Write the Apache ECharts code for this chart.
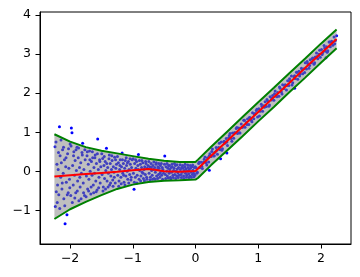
<!DOCTYPE html>
<html>
<head>
<meta charset="utf-8">
<script src="https://cdn.jsdelivr.net/npm/echarts@6/dist/echarts.min.js"></script>
<style>
html,body{margin:0;padding:0;background:#fff;}
#c{width:360px;height:277px;}
</style>
</head>
<body>
<div id="c"></div>
<script>
// ---- data ----
const xTicks = [-2, -1, 0, 1, 2];
const yTicks = [-1, 0, 1, 2, 3, 4];

// band (green curves) knots
const bandX     = [-2.25,-2.0,-1.75,-1.5,-1.25,-1.0,-0.75,-0.5,-0.25,0.0,0.04,0.25,0.5,0.75,1.0,1.25,1.5,1.75,2.0,2.25];
const bandUpper = [0.95,0.76,0.62,0.53,0.46,0.39,0.32,0.27,0.24,0.24,0.30,0.63,1.01,1.39,1.77,2.14,2.52,2.89,3.27,3.63];
const bandLower = [-1.22,-0.97,-0.78,-0.61,-0.45,-0.34,-0.27,-0.24,-0.23,-0.21,-0.17,0.16,0.53,0.90,1.28,1.65,2.03,2.40,2.78,3.15];

// fitted (red) curve
const fitX = [-2.25,-2.0,-1.75,-1.5,-1.25,-1.0,-0.75,-0.65,-0.5,-0.25,0.0,0.25,0.5,0.75,1.0,1.25,1.5,1.75,2.0,2.25];
const fitY = [-0.13,-0.10,-0.07,-0.04,-0.01,0.03,0.06,0.04,0.0,-0.01,0.01,0.40,0.77,1.15,1.52,1.90,2.27,2.65,3.02,3.39];

// observed points, left (noisy) part
const pointsLeft = [
[-2.24,0.63],[-2.22,-0.52],[-2.21,0.18],[-2.2,-0.35],[-2.19,0.05],[-2.18,-0.6],[-2.17,1.14],[-2.16,0.4],[-2.15,-0.15],[-2.14,0.22],[-2.13,-0.45],[-2.12,0.55],[-2.11,-0.05],[-2.1,-0.7],[-2.09,0.3],[-2.08,-1.34],[-2.07,0.12],[-2.06,-0.28],[-2.05,-1.11],[-2.04,0.45],[-2.03,-0.55],[-2.02,0.08],[-2.01,-0.2],[-2.0,0.7],
[-1.99,-0.62],[-1.98,1.11],[-1.97,0.99],[-1.96,0.15],[-1.95,-0.35],[-1.94,0.5],[-1.93,-0.1],[-1.92,0.28],[-1.91,-0.55],[-1.9,0.02],[-1.89,0.62],[-1.88,-0.25],[-1.87,0.35],[-1.86,-0.75],[-1.85,0.1],[-1.84,-0.4],[-1.83,0.22],[-1.82,-0.05],[-1.81,0.48],[-1.8,0.72],[-1.79,-0.3],[-1.78,0.05],[-1.77,-0.62],[-1.76,0.3],
[-1.74,-0.12],[-1.73,0.4],[-1.72,-0.45],[-1.71,0.18],[-1.7,-0.2],[-1.69,0.52],[-1.68,0.0],[-1.67,-0.58],[-1.66,0.25],[-1.65,-0.1],[-1.64,0.35],[-1.63,-0.35],[-1.62,0.1],[-1.61,-0.05],[-1.6,0.42],[-1.59,-0.25],[-1.58,0.2],[-1.57,-0.48],[-1.56,0.83],[-1.55,0.05],[-1.54,-0.15],[-1.53,0.3],[-1.52,-0.3],[-1.51,0.12],
[-1.49,-0.08],[-1.48,0.33],[-1.47,-0.4],[-1.46,0.15],[-1.45,-0.18],[-1.44,0.25],[-1.43,0.02],[-1.42,0.59],[-1.41,-0.25],[-1.4,0.1],[-1.39,-0.05],[-1.38,0.32],[-1.37,-0.35],[-1.36,0.2],[-1.35,-0.12],[-1.34,0.05],[-1.33,0.28],[-1.32,-0.22],[-1.31,0.12],[-1.3,-0.02],[-1.29,0.36],[-1.28,-0.3],[-1.27,0.08],[-1.26,0.18],
[-1.24,-0.1],[-1.23,0.22],[-1.22,-0.25],[-1.21,0.05],[-1.2,0.3],[-1.19,-0.15],[-1.18,0.12],[-1.17,0.47],[-1.16,-0.05],[-1.15,0.2],[-1.14,-0.28],[-1.13,0.08],[-1.12,0.28],[-1.11,-0.12],[-1.1,0.15],[-1.09,0.0],[-1.08,-0.2],[-1.07,0.25],[-1.06,0.05],[-1.05,-0.08],[-1.04,0.18],[-1.03,-0.22],[-1.02,0.1],[-1.01,0.3],
[-0.99,-0.05],[-0.98,-0.46],[-0.97,0.2],[-0.96,-0.15],[-0.95,0.08],[-0.94,0.25],[-0.93,-0.1],[-0.92,0.15],[-0.91,0.43],[-0.9,-0.2],[-0.89,0.02],[-0.88,0.18],[-0.87,-0.12],[-0.86,0.1],[-0.85,-0.02],[-0.84,0.22],[-0.83,-0.18],[-0.82,0.05],[-0.81,0.12],[-0.8,-0.08],[-0.79,0.2],[-0.78,-0.15],[-0.77,0.08],[-0.76,0.15],
[-0.74,-0.05],[-0.73,0.12],[-0.72,-0.15],[-0.71,0.2],[-0.7,0.02],[-0.69,-0.1],[-0.68,0.15],[-0.67,0.05],[-0.66,-0.18],[-0.65,0.1],[-0.64,-0.02],[-0.63,0.18],[-0.62,-0.12],[-0.61,0.05],[-0.6,0.12],[-0.59,-0.08],[-0.58,0.08],[-0.57,-0.15],[-0.56,0.15],[-0.55,0.0],[-0.54,-0.1],[-0.53,0.1],[-0.52,0.05],[-0.51,-0.05],
[-0.49,0.39],[-0.48,-0.08],[-0.47,0.12],[-0.46,0.0],[-0.45,-0.12],[-0.44,0.08],[-0.43,0.15],[-0.42,-0.05],[-0.41,0.05],[-0.4,-0.15],[-0.39,0.1],[-0.38,-0.02],[-0.37,0.12],[-0.36,-0.1],[-0.35,0.02],[-0.34,0.08],[-0.33,-0.08],[-0.32,0.15],[-0.31,0.0],[-0.3,-0.12],[-0.29,0.06],[-0.28,-0.04],[-0.27,0.1],[-0.26,-0.1],
[-0.24,0.05],[-0.23,-0.08],[-0.22,0.1],[-0.21,-0.02],[-0.2,0.08],[-0.19,-0.12],[-0.18,0.02],[-0.17,0.12],[-0.16,-0.05],[-0.15,0.06],[-0.14,-0.1],[-0.13,0.0],[-0.12,0.1],[-0.11,-0.06],[-0.1,0.04],[-0.09,-0.12],[-0.08,0.08],[-0.07,-0.02],[-0.06,0.12],[-0.05,-0.08],[-0.04,0.03],[-0.03,-0.05],[-0.02,0.1],[-0.01,-0.1]
];

// more observed points on the left, spread across the band
const pointsLeftWide = [
[-2.235,-0.9],[-2.225,0.75],[-2.205,-0.8],[-2.185,0.48],[-2.165,-0.95],[-2.145,0.8],[-2.125,-0.3],[-2.105,0.62],[-2.085,-0.88],[-2.065,0.35],[-2.045,-0.6],[-2.025,0.58],[-2.005,-0.42],
[-1.985,0.65],[-1.965,-0.8],[-1.945,0.4],[-1.925,-0.68],[-1.905,0.55],[-1.885,-0.5],[-1.865,0.6],[-1.845,-0.15],[-1.825,-0.7],[-1.805,0.42],[-1.785,-0.55],[-1.765,0.55],
[-1.745,-0.65],[-1.725,0.5],[-1.705,-0.5],[-1.685,0.3],[-1.665,-0.4],[-1.645,0.5],[-1.625,-0.55],[-1.605,0.35],[-1.585,-0.52],[-1.565,0.45],[-1.545,-0.42],[-1.525,0.25],
[-1.495,0.45],[-1.475,-0.5],[-1.455,0.38],[-1.435,-0.45],[-1.415,0.2],[-1.395,-0.4],[-1.375,0.42],[-1.355,-0.3],[-1.335,0.4],[-1.315,-0.38],[-1.295,-0.15],[-1.275,0.3],
[-1.245,0.38],[-1.225,-0.38],[-1.205,0.15],[-1.185,-0.32],[-1.165,0.3],[-1.145,-0.1],[-1.125,-0.35],[-1.105,0.35],[-1.085,0.22],[-1.065,-0.3],[-1.045,0.32],[-1.025,-0.15],
[-0.995,0.32],[-0.975,-0.28],[-0.955,0.3],[-0.935,-0.3],[-0.915,0.05],[-0.895,0.28],[-0.875,-0.25],[-0.855,0.28],[-0.835,-0.05],[-0.815,-0.24],[-0.795,0.25],[-0.775,-0.2],
[-0.745,0.25],[-0.725,-0.22],[-0.705,0.1],[-0.685,-0.2],[-0.665,0.24],[-0.645,-0.2],[-0.625,0.22],[-0.605,-0.18],[-0.585,0.2],[-0.565,-0.05],[-0.545,0.2],[-0.525,-0.2],
[-0.495,0.18],[-0.475,-0.18],[-0.455,0.2],[-0.435,-0.17],[-0.415,0.15],[-0.395,-0.19],[-0.375,0.18],[-0.355,-0.16],[-0.335,0.2],[-0.315,-0.18],[-0.295,0.17],[-0.275,-0.16],
[-0.245,0.17],[-0.225,-0.16],[-0.205,0.15],[-0.185,-0.18],[-0.165,0.18],[-0.145,-0.15],[-0.125,0.16],[-0.105,-0.16],[-0.085,0.15],[-0.065,-0.15],[-0.045,0.16],[-0.025,-0.14],[-0.005,0.12]
];

// observed points, right (linear) part
const pointsRight = [
[0.01,0.09],[0.03,-0.02],[0.05,0.20],[0.07,0.10],[0.09,0.23],[0.11,0.07],[0.13,0.24],[0.15,0.37],[0.17,0.22],[0.19,0.35],[0.21,0.24],[0.22,0.03],[0.23,0.45],[0.25,0.38],[0.27,0.57],[0.29,0.39],[0.31,0.49],[0.33,0.61],[0.35,0.44],[0.37,0.61],[0.39,0.56],[0.40,0.32],
[0.41,0.75],[0.43,0.58],[0.45,0.76],[0.47,0.72],[0.49,0.84],[0.50,0.47],[0.51,0.66],[0.53,0.86],[0.55,0.97],[0.57,0.84],[0.59,0.98],[0.61,0.85],[0.63,0.99],[0.65,1.10],[0.67,0.97],[0.69,1.11],[0.71,0.98],[0.73,1.21],[0.75,1.13],[0.77,1.31],[0.79,1.13],
[0.81,1.25],[0.83,1.34],[0.85,1.20],[0.87,1.37],[0.89,1.31],[0.91,1.50],[0.93,1.35],[0.95,1.48],[0.97,1.56],[0.99,1.39],[1.01,1.60],[1.03,1.54],[1.05,1.72],[1.07,1.54],[1.09,1.68],[1.11,1.78],[1.13,1.66],[1.15,1.80],[1.17,1.67],[1.19,1.91],
[1.21,1.83],[1.23,1.94],[1.25,1.82],[1.27,2.06],[1.29,1.92],[1.31,2.02],[1.33,1.92],[1.35,2.13],[1.37,2.03],[1.39,2.22],[1.41,2.12],[1.43,2.22],[1.45,2.08],[1.47,2.32],[1.49,2.20],[1.51,2.31],[1.53,2.44],[1.55,2.27],[1.57,2.42],[1.58,2.13],[1.59,2.38],
[1.61,2.54],[1.63,2.36],[1.65,2.56],[1.67,2.49],[1.69,2.64],[1.71,2.50],[1.73,2.63],[1.75,2.78],[1.77,2.62],[1.79,2.76],[1.81,2.64],[1.83,2.86],[1.85,2.78],[1.87,2.90],[1.89,2.74],[1.91,2.93],[1.93,3.03],[1.95,2.88],[1.97,3.00],[1.99,2.92],
[2.01,3.12],[2.03,3.04],[2.05,3.22],[2.07,3.08],[2.08,2.91],[2.09,3.19],[2.11,3.09],[2.13,3.31],[2.15,3.19],[2.17,3.33],[2.19,3.23],[2.21,3.44],[2.23,3.35],[2.25,3.47]
];

// more observed points on the right
const pointsRightMore = [
[0.02,-0.05],[0.06,0.23],[0.10,0.13],[0.14,0.31],[0.18,0.16],[0.22,0.40],[0.26,0.51],[0.30,0.40],[0.34,0.54],[0.38,0.72],[0.42,0.54],[0.46,0.77],[0.50,0.75],[0.54,0.92],
[0.58,0.77],[0.62,0.99],[0.66,1.12],[0.70,0.99],[0.74,1.13],[0.78,1.31],[0.82,1.20],[0.86,1.38],[0.90,1.27],[0.94,1.46],[0.98,1.59],[1.02,1.42],[1.06,1.66],[1.10,1.64],
[1.14,1.84],[1.18,1.70],[1.22,1.87],[1.26,1.99],[1.30,1.91],[1.34,2.16],[1.38,1.98],[1.42,2.19],[1.46,2.20],[1.50,2.37],[1.54,2.21],[1.58,2.45],[1.62,2.54],[1.66,2.44],
[1.70,2.60],[1.74,2.53],[1.78,2.81],[1.82,2.71],[1.86,2.88],[1.90,2.78],[1.94,2.94],[1.98,3.10],[2.02,2.99],[2.06,3.16],[2.10,3.05],[2.14,3.31],[2.18,3.31],[2.22,3.27]
];

// ---- chart ----
const FONT = '"DejaVu Sans", sans-serif';
const fmt = v => String(v).replace('-', '\u2212');
const zip = (xs, ys) => xs.map((x, i) => [x, ys[i]]);

const chart = echarts.init(document.getElementById('c'), null, {renderer: 'canvas'});
chart.setOption({
  animation: false,
  backgroundColor: '#ffffff',
  grid: {left: 40, top: 12, right: 9, bottom: 33, show: true, borderColor: '#000', borderWidth: 1, backgroundColor: 'transparent'},
  xAxis: {
    type: 'value', min: -2.48, max: 2.48,
    axisLine: {show: true, onZero: false, lineStyle: {color: '#000', width: 1}},
    axisTick: {show: true, length: 4.5, lineStyle: {color: '#000', width: 1}, customValues: xTicks},
    axisLabel: {show: true, color: '#000', fontSize: 12.5, fontFamily: FONT, margin: 8, customValues: xTicks, formatter: fmt},
    splitLine: {show: false}
  },
  yAxis: {
    type: 'value', min: -1.86, max: 4.08,
    axisLine: {show: true, onZero: false, lineStyle: {color: '#000', width: 1}},
    axisTick: {show: true, length: 4.5, lineStyle: {color: '#000', width: 1}, customValues: yTicks},
    axisLabel: {show: true, color: '#000', fontSize: 12.5, fontFamily: FONT, margin: 9, customValues: yTicks, formatter: fmt},
    splitLine: {show: false}
  },
  series: [
    {
      type: 'scatter', zlevel: 0, z: 1,
      data: pointsLeft.concat(pointsLeftWide, pointsRight, pointsRightMore),
      symbol: 'circle', symbolSize: 3,
      itemStyle: {color: '#0000ff', borderWidth: 0, opacity: 1},
      silent: true
    },
    {
      type: 'custom', zlevel: 1, z: 2, silent: true,
      data: [[bandX[0], bandUpper[0]]],
      encode: {x: 0, y: 1},
      renderItem: function (params, api) {
        const pts = [];
        for (let i = 0; i < bandX.length; i++) pts.push(api.coord([bandX[i], bandUpper[i]]));
        for (let i = bandX.length - 1; i >= 0; i--) pts.push(api.coord([bandX[i], bandLower[i]]));
        return {type: 'polygon', shape: {points: pts}, style: {fill: 'rgba(128,128,128,0.5)', stroke: 'none'}};
      }
    },
    {
      type: 'line', zlevel: 1, z: 3, silent: true, showSymbol: false,
      data: zip(bandX, bandUpper),
      lineStyle: {color: '#008000', width: 2}
    },
    {
      type: 'line', zlevel: 1, z: 3, silent: true, showSymbol: false,
      data: zip(bandX, bandLower),
      lineStyle: {color: '#008000', width: 2}
    },
    {
      type: 'line', zlevel: 1, z: 4, silent: true, showSymbol: false,
      data: zip(fitX, fitY),
      lineStyle: {color: '#ff0000', width: 2}
    }
  ]
});
</script>
</body>
</html>
